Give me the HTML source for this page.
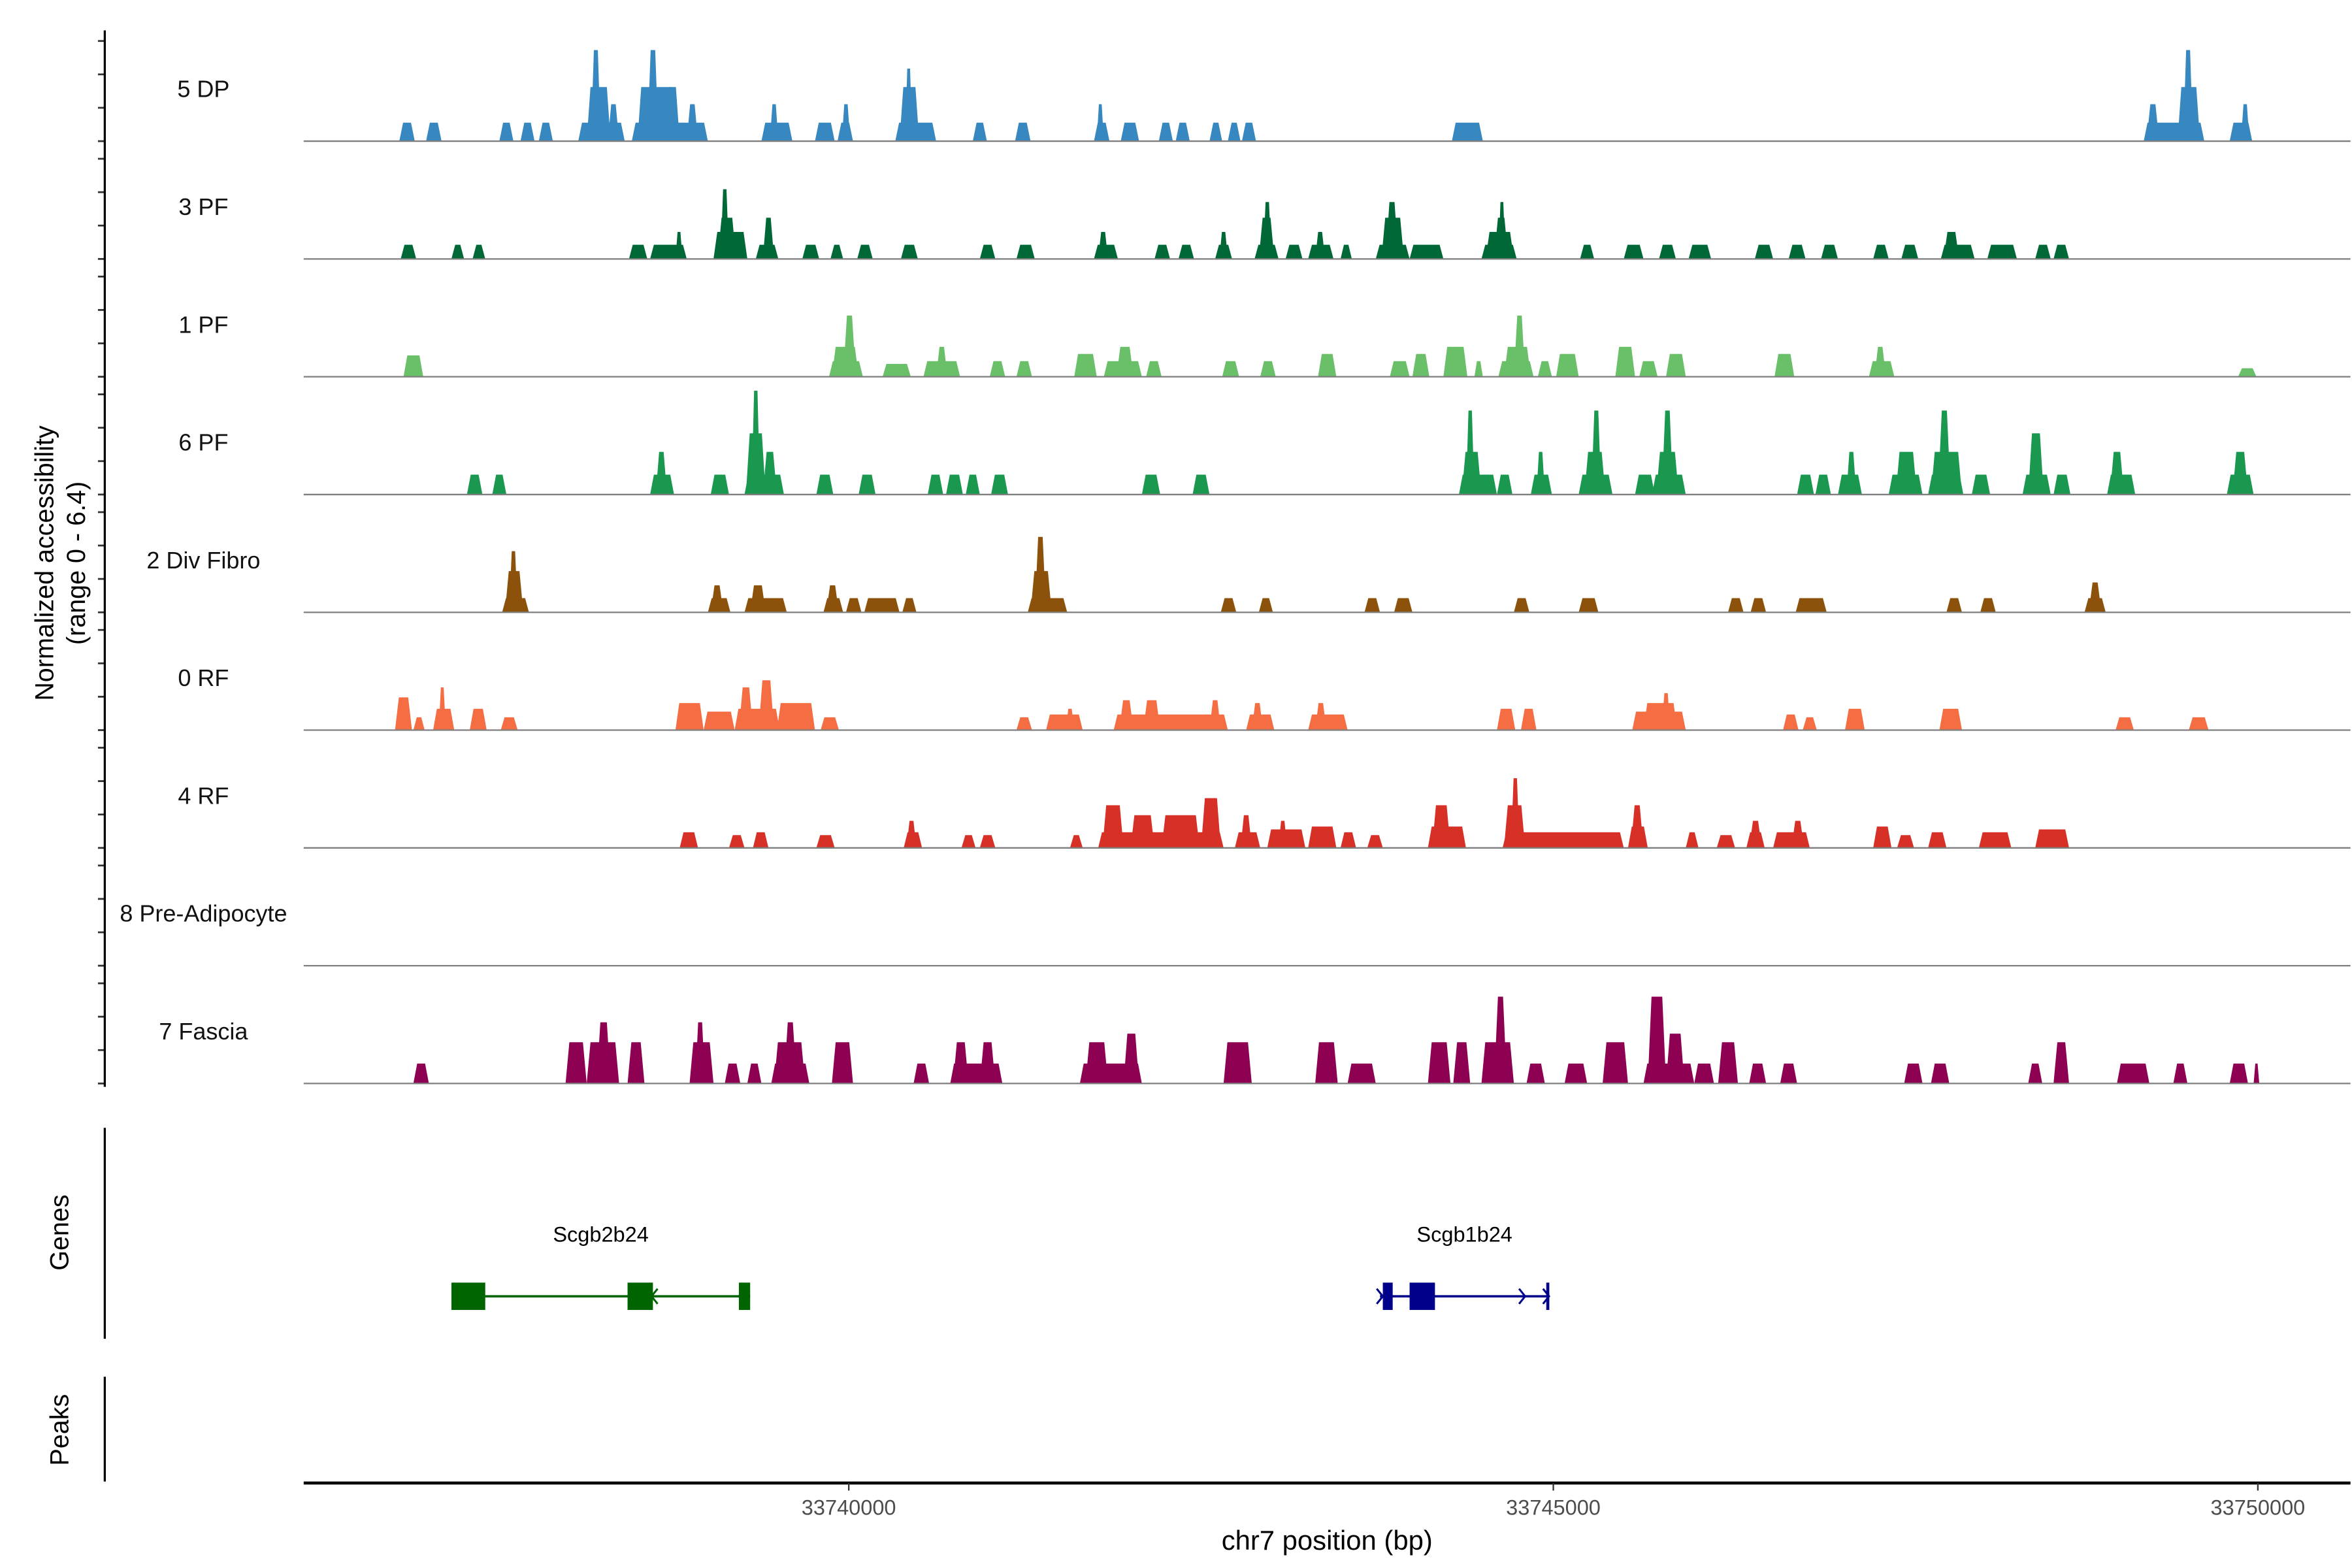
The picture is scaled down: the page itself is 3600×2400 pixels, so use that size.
<!DOCTYPE html>
<html><head><meta charset="utf-8">
<style>
html,body{margin:0;padding:0;background:#fff;}
svg{display:block;font-family:"Liberation Sans",Arial,sans-serif;}
</style></head>
<body>
<svg id="chart" width="3600" height="2400" viewBox="0 0 1549 1033" preserveAspectRatio="none" xmlns="http://www.w3.org/2000/svg">
<rect x="0" y="0" width="1549" height="1033" fill="#fff"/>
<g id="tracks"></g>
<g id="genes"></g>
<g id="axes"></g>
</svg>
<script>
// ---- data (positions in kb on chr7, heights in normalized accessibility) ----
const trackNames = ["5 DP","3 PF","1 PF","6 PF","2 Div Fibro","0 RF","4 RF","8 Pre-Adipocyte","7 Fascia"];
const trackColors = ["#3787c0","#006837","#6abf69","#1a9850","#8c510a","#f46d43","#d73027","#bbbbbb","#8e0152"];
const peaksDP = [[36.81,36.92,1.3],[37.00,37.11,1.3],[37.52,37.62,1.3],[37.67,37.77,1.3],[37.80,37.90,1.3],[38.08,38.41,1.3],[38.14,38.31,3.8],[38.17,38.24,6.4],[38.29,38.37,2.6],[38.46,39.00,1.3],[38.50,38.77,3.8],[38.57,38.65,6.4],[38.70,38.80,3.8],[38.85,38.93,2.6],[39.38,39.60,1.3],[39.44,39.50,2.6],[39.76,39.90,1.3],[39.92,40.03,1.3],[39.95,40.01,2.6],[40.33,40.62,1.3],[40.36,40.50,3.8],[40.40,40.45,5.1],[40.88,40.98,1.3],[41.18,41.29,1.3],[41.74,41.85,1.3],[41.76,41.81,2.6],[41.93,42.06,1.3],[42.20,42.30,1.3],[42.32,42.42,1.3],[42.56,42.65,1.3],[42.69,42.78,1.3],[42.79,42.89,1.3],[44.28,44.50,1.3],[49.19,49.62,1.3],[49.21,49.30,2.6],[49.43,49.59,3.8],[49.47,49.54,6.4],[49.80,49.96,1.3],[49.88,49.94,2.6]];
const peaks3PF = [[36.82,36.93,1.0],[37.18,37.27,1.0],[37.33,37.42,1.0],[38.44,38.57,1.0],[38.59,38.85,1.0],[38.77,38.82,1.9],[39.04,39.28,1.9],[39.07,39.20,2.9],[39.09,39.15,4.9],[39.34,39.50,1.0],[39.39,39.47,2.9],[39.67,39.79,1.0],[39.87,39.96,1.0],[40.06,40.17,1.0],[40.37,40.49,1.0],[40.93,41.04,1.0],[41.19,41.32,1.0],[41.74,41.91,1.0],[41.77,41.84,1.9],[42.17,42.28,1.0],[42.34,42.45,1.0],[42.60,42.72,1.0],[42.63,42.69,1.9],[42.88,43.05,1.0],[42.91,43.02,2.9],[42.94,43.00,4.0],[43.10,43.22,1.0],[43.26,43.44,1.0],[43.31,43.38,1.9],[43.49,43.57,1.0],[43.74,43.98,1.0],[43.78,43.94,2.9],[43.81,43.90,4.0],[43.98,44.22,1.0],[44.49,44.74,1.0],[44.52,44.72,1.9],[44.58,44.68,2.9],[44.61,44.66,4.0],[45.19,45.29,1.0],[45.50,45.64,1.0],[45.75,45.87,1.0],[45.96,46.12,1.0],[46.43,46.56,1.0],[46.67,46.79,1.0],[46.90,47.02,1.0],[47.27,47.38,1.0],[47.47,47.59,1.0],[47.75,47.99,1.0],[47.77,47.88,1.9],[48.08,48.29,1.0],[48.42,48.53,1.0],[48.55,48.66,1.0]];
const peaks1PF = [[36.84,36.98,1.5],[39.86,40.10,1.1],[39.88,40.07,2.1],[39.96,40.05,4.3],[40.24,40.44,0.9],[40.53,40.79,1.1],[40.62,40.70,2.1],[41.00,41.11,1.1],[41.19,41.30,1.1],[41.60,41.76,1.6],[41.81,42.08,1.1],[41.90,42.02,2.1],[42.11,42.22,1.1],[42.65,42.77,1.1],[42.92,43.03,1.1],[43.33,43.46,1.6],[43.84,43.98,1.1],[44.00,44.12,1.6],[44.22,44.39,2.1],[44.44,44.50,1.1],[44.61,44.86,1.1],[44.65,44.84,2.1],[44.72,44.80,4.3],[44.89,44.99,1.1],[45.02,45.18,1.6],[45.44,45.58,2.1],[45.61,45.74,1.1],[45.80,45.94,1.6],[46.57,46.71,1.6],[47.24,47.42,1.1],[47.28,47.36,2.1],[49.86,49.99,0.6]];
const peaks6PF = [[37.29,37.40,1.4],[37.47,37.57,1.4],[38.59,38.76,1.4],[38.63,38.71,3.0],[39.02,39.15,1.4],[39.26,39.54,1.4],[39.27,39.41,4.3],[39.31,39.37,7.3],[39.39,39.49,3.0],[39.77,39.89,1.4],[40.07,40.19,1.4],[40.56,40.67,1.4],[40.69,40.81,1.4],[40.83,40.93,1.4],[41.01,41.13,1.4],[42.08,42.21,1.4],[42.44,42.56,1.4],[44.33,44.60,1.4],[44.35,44.49,3.0],[44.38,44.44,5.9],[44.60,44.71,1.4],[44.84,44.99,1.4],[44.88,44.94,3.0],[45.18,45.42,1.4],[45.22,45.37,3.0],[45.27,45.34,5.9],[45.58,45.72,1.4],[45.70,45.94,1.4],[45.73,45.89,3.0],[45.77,45.85,5.9],[46.73,46.85,1.4],[46.86,46.97,1.4],[47.02,47.19,1.4],[47.08,47.15,3.0],[47.38,47.62,1.4],[47.43,47.58,3.0],[47.66,47.91,1.4],[47.68,47.90,3.0],[47.73,47.82,5.9],[47.97,48.10,1.4],[48.33,48.53,1.4],[48.37,48.48,4.3],[48.55,48.67,1.4],[48.93,49.13,1.4],[48.95,49.05,3.0],[49.78,49.97,1.4],[49.82,49.93,3.0]];
const peaksDiv = [[37.54,37.73,1.0],[37.56,37.69,2.9],[37.59,37.65,4.3],[39.00,39.16,1.0],[39.02,39.11,1.9],[39.26,39.56,1.0],[39.30,39.41,1.9],[39.82,39.96,1.0],[39.84,39.93,1.9],[39.98,40.09,1.0],[40.11,40.36,1.0],[40.38,40.48,1.0],[41.27,41.55,1.0],[41.29,41.44,2.9],[41.32,41.40,5.3],[42.64,42.75,1.0],[42.91,43.01,1.0],[43.66,43.77,1.0],[43.87,44.00,1.0],[44.72,44.83,1.0],[45.18,45.32,1.0],[46.24,46.35,1.0],[46.40,46.51,1.0],[46.72,46.94,1.0],[47.79,47.90,1.0],[48.03,48.14,1.0],[48.77,48.92,1.0],[48.80,48.89,2.1]];
const peaks0RF = [[36.78,36.90,2.3],[36.91,36.99,0.9],[37.05,37.20,1.5],[37.09,37.14,3.0],[37.31,37.43,1.5],[37.53,37.65,0.9],[38.77,38.97,1.9],[38.97,39.19,1.3],[39.19,39.51,1.5],[39.22,39.32,3.0],[39.36,39.47,3.5],[39.49,39.76,1.9],[39.80,39.93,0.9],[41.19,41.30,0.9],[41.40,41.66,1.1],[41.54,41.60,1.5],[41.88,42.69,1.1],[41.92,42.02,2.1],[42.09,42.21,2.1],[42.56,42.64,2.1],[42.82,43.02,1.1],[42.86,42.94,1.9],[43.26,43.54,1.1],[43.31,43.39,1.9],[44.60,44.73,1.5],[44.77,44.88,1.5],[45.56,45.94,1.3],[45.64,45.88,1.9],[45.77,45.83,2.6],[46.63,46.74,1.1],[46.77,46.87,0.9],[47.07,47.21,1.5],[47.74,47.90,1.5],[48.99,49.12,0.9],[49.51,49.65,0.9]];
const peaks4RF = [[38.80,38.93,1.1],[39.15,39.26,0.9],[39.32,39.43,1.1],[39.77,39.90,0.9],[40.39,40.52,1.1],[40.41,40.48,1.9],[40.80,40.90,0.9],[40.93,41.04,0.9],[41.57,41.66,0.9],[41.77,42.66,1.1],[41.80,41.95,3.0],[42.00,42.17,2.3],[42.22,42.49,2.3],[42.50,42.64,3.5],[42.74,42.92,1.1],[42.78,42.86,2.3],[42.97,43.24,1.3],[43.05,43.11,1.9],[43.26,43.46,1.5],[43.49,43.60,1.1],[43.68,43.79,0.9],[44.11,44.38,1.5],[44.14,44.27,3.0],[44.64,45.50,1.1],[44.65,44.80,3.0],[44.70,44.76,4.9],[45.53,45.67,1.5],[45.55,45.64,3.0],[45.94,46.03,1.1],[46.16,46.29,0.9],[46.37,46.50,1.1],[46.39,46.48,1.9],[46.56,46.82,1.1],[46.69,46.78,1.9],[47.27,47.40,1.5],[47.44,47.56,0.9],[47.66,47.79,1.1],[48.02,48.25,1.1],[48.42,48.66,1.3]];
const peaksPreAd = [];
const peaksFascia = [[36.91,37.02,1.4],[37.99,38.14,2.9],[38.14,38.37,2.9],[38.21,38.31,4.3],[38.43,38.55,2.9],[38.87,39.04,2.9],[38.91,38.98,4.3],[39.12,39.23,1.4],[39.28,39.38,1.4],[39.45,39.72,1.4],[39.47,39.69,2.9],[39.54,39.63,4.3],[39.88,40.03,2.9],[40.46,40.57,1.4],[40.72,41.09,1.4],[40.74,40.85,2.9],[40.93,41.04,2.9],[41.64,42.08,1.4],[41.68,41.84,2.9],[41.95,42.06,3.5],[42.66,42.86,2.9],[43.31,43.47,2.9],[43.54,43.74,1.4],[44.11,44.27,2.9],[44.29,44.41,2.9],[44.49,44.72,2.9],[44.58,44.67,6.1],[44.81,44.94,1.4],[45.08,45.24,1.4],[45.35,45.53,2.9],[45.64,46.00,1.4],[45.67,45.80,6.1],[45.80,45.93,3.5],[46.00,46.14,1.4],[46.17,46.31,2.9],[46.39,46.51,1.4],[46.61,46.73,1.4],[47.49,47.62,1.4],[47.68,47.81,1.4],[48.37,48.47,1.4],[48.55,48.66,2.9],[49.00,49.23,1.4],[49.40,49.50,1.4],[49.80,49.93,1.4],[49.97,50.01,1.4]];
const allPeaks = [peaksDP,peaks3PF,peaks1PF,peaks6PF,peaksDiv,peaks0RF,peaks4RF,peaksPreAd,peaksFascia];
const xTicks = [33740000,33745000,33750000];
const xTickLabels = ["33740000","33745000","33750000"];
const geneNames = ["Scgb2b24","Scgb1b24"];
const geneColors = ["#006400","#00008b"];
const geneSpans = [[37.18,39.30],[43.77,44.97]];
const geneExons = [[[37.18,37.42],[38.43,38.61],[39.22,39.30]],[[43.79,43.86],[43.98,44.16],[44.95,44.97]]];
const geneStrand = [-1,1];
const geneArrows = [[38.60,39.22],[43.79,44.80,44.97]];

// ---- scales ----
const X0 = 200, X1 = 1548;
function xScale(kb){ return 559 + (kb*1000 + 33700000 - 33740000) * 0.0928; }
function xbp(bp){ return 559 + (bp - 33740000) * 0.0928; }
const base0 = 93, trackStep = 77.6, pxPerUnit = 9.375;
function yScale(v, ti){ return base0 + ti*trackStep - v*pxPerUnit; }

const NS = "http://www.w3.org/2000/svg";
function mk(tag, attrs, parent){ const e=document.createElementNS(NS,tag); for(const k in attrs) e.setAttribute(k,attrs[k]); parent.appendChild(e); return e; }

const tracks = document.getElementById("tracks");
const axes = document.getElementById("axes");
const genes = document.getElementById("genes");

allPeaks.forEach(function(peaks, ti){
  const g = mk("g", {}, tracks);
  
  
  const by = yScale(0, ti);
  const lab = mk("text", {x:134, y:by-29, "font-size":15.5, "text-anchor":"middle", fill:"#111"}, g);
  lab.textContent = trackNames[ti];
  
  
  peaks.forEach(function(p){
    const xa = xScale(p[0]), xb = xScale(p[1]), yt = yScale(p[2], ti);
    const s = Math.min(2.5, (xb-xa)*0.3);
    const poly = mk("polygon", {points: xa+","+by+" "+(xa+s)+","+yt+" "+(xb-s)+","+yt+" "+xb+","+by, fill: trackColors[ti]}, g);
    
    
  });
  const bl = mk("line", {x1:X0, x2:X1, y1:by, y2:by, stroke:"#7f7f7f", "stroke-width":1}, g);
  
  
  // left axis ticks
  for (let k=0;k<4;k++){
    const tk = mk("line", {x1:64.5, x2:69, y1:by-k*22, y2:by-k*22, stroke:"#333", "stroke-width":1.2}, axes);
    
    
  }
});

// left axes lines
[[20,716],[743,882],[907,976]].forEach(function(r){
  const l = mk("line", {x1:69, x2:69, y1:r[0], y2:r[1], stroke:"#000", "stroke-width":1.4}, axes);
  
  
});
const yt1 = mk("text", {x:0,y:0,"font-size":17,"text-anchor":"middle",transform:"translate(35,371) rotate(-90)"}, axes);
yt1.textContent = "Normalized accessibility";


const yt2 = mk("text", {x:0,y:0,"font-size":17,"text-anchor":"middle",transform:"translate(56,371) rotate(-90)"}, axes);
yt2.textContent = "(range 0 - 6.4)";


const gt = mk("text", {x:0,y:0,"font-size":17,"text-anchor":"middle",transform:"translate(45,812) rotate(-90)"}, axes);
gt.textContent = "Genes";


const pt = mk("text", {x:0,y:0,"font-size":17,"text-anchor":"middle",transform:"translate(45,942) rotate(-90)"}, axes);
pt.textContent = "Peaks";



// x axis
const xa = mk("line", {x1:X0, x2:X1, y1:977, y2:977, stroke:"#000", "stroke-width":2}, axes);


xTicks.forEach(function(t,i){
  const x = xbp(t);
  const tk = mk("line", {x1:x, x2:x, y1:977, y2:982, stroke:"#333", "stroke-width":1}, axes);
  
  
  const tl = mk("text", {x:x, y:998, "font-size":14, "text-anchor":"middle", fill:"#4d4d4d"}, axes);
  tl.textContent = xTickLabels[i];
  
  
});
const xt = mk("text", {x:874, y:1021, "font-size":18, "text-anchor":"middle", fill:"#000"}, axes);
xt.textContent = "chr7 position (bp)";



// genes
const gy = 854;
geneNames.forEach(function(name, gi){
  const g = mk("g", {}, genes);
  
  
  const c = geneColors[gi];
  const sp = geneSpans[gi];
  mk("line", {x1:xScale(sp[0]), x2:xScale(sp[1]), y1:gy, y2:gy, stroke:c, "stroke-width":1.5}, g);
  geneExons[gi].forEach(function(e){
    const r = mk("rect", {x:xScale(e[0]), y:gy-9, width:Math.max(2,xScale(e[1])-xScale(e[0])), height:18, fill:c}, g);
    
    
  });
  geneArrows[gi].forEach(function(a){
    const x = xScale(a), d = 4*geneStrand[gi];
    mk("polyline", {points:(x-d)+","+(gy-5)+" "+x+","+gy+" "+(x-d)+","+(gy+5), fill:"none", stroke:c, "stroke-width":1.3}, g);
  });
  const lbl = mk("text", {x:(xScale(sp[0])+xScale(sp[1]))/2, y:818, "font-size":14, "text-anchor":"middle", fill:"#000"}, g);
  lbl.textContent = name;
  
  
});
</script>
</body></html>
